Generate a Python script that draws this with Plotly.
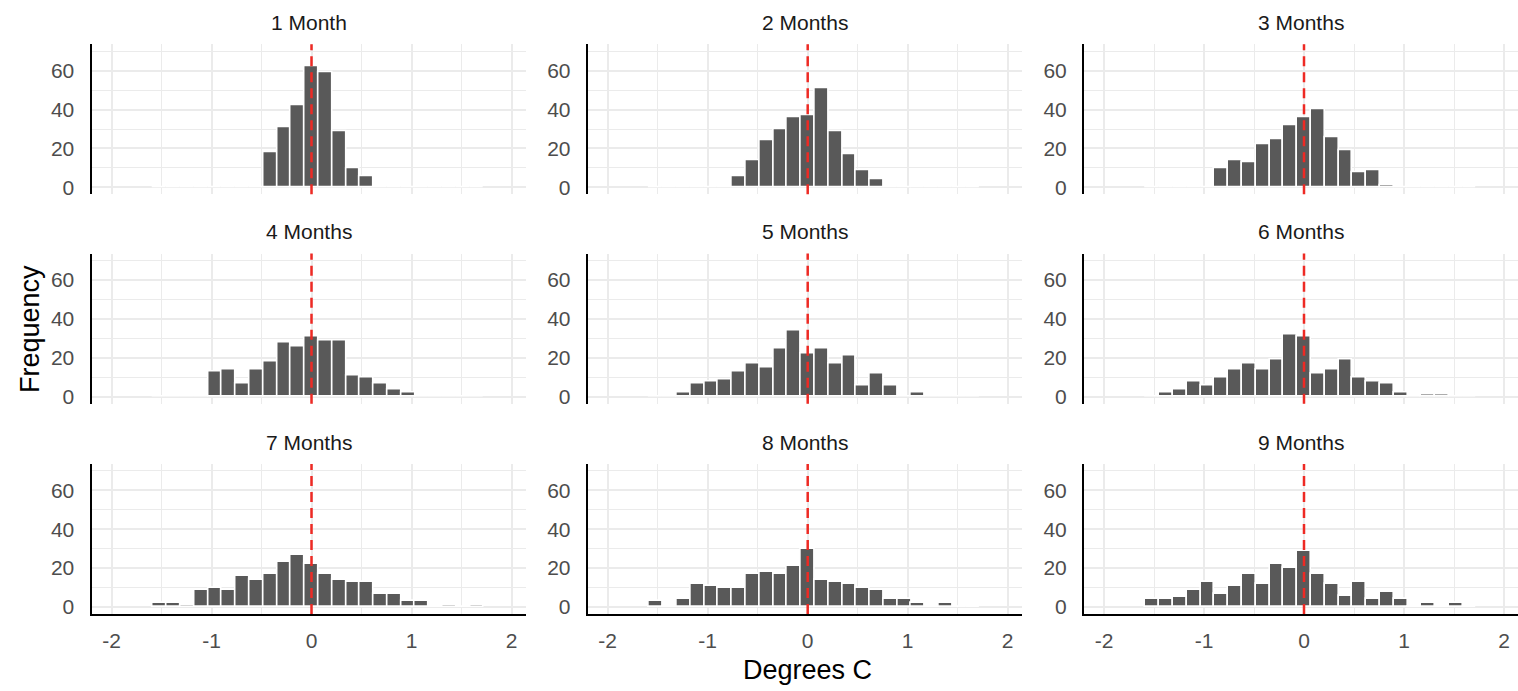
import plotly.graph_objects as go

W, H = 1518, 691

# ---- data ----
bin_centers = [-1.517, -1.379, -1.241, -1.103, -0.966, -0.828, -0.690, -0.552,
               -0.414, -0.276, -0.138, 0.0, 0.138, 0.276, 0.414, 0.552,
               0.690, 0.828, 0.966, 1.103, 1.241, 1.379, 1.517, 1.655]

panel_titles = ["1 Month", "2 Months", "3 Months", "4 Months", "5 Months",
                "6 Months", "7 Months", "8 Months", "9 Months"]

m1 = [0, 0, 0, 0, 0, 0, 0, 0, 18, 31, 42, 62, 59, 29, 10, 6, 0, 0, 0, 0, 0, 0, 0, 0]
m2 = [0, 0, 0, 0, 0, 0, 6, 14, 24, 30, 36, 37, 51, 29, 17, 9, 4, 0, 0, 0, 0, 0, 0, 0]
m3 = [0, 0, 0, 0, 0, 10, 14, 13, 22, 25, 32, 36, 40, 26, 19, 8, 9, 1, 0, 0, 0, 0, 0, 0]
m4 = [0, 0, 0, 0, 13, 14, 7, 14, 18, 28, 26, 31, 29, 29, 11, 10, 7, 4, 2, 0, 0, 0, 0, 0]
m5 = [0, 0, 2, 7, 8, 9, 13, 17, 15, 25, 34, 22, 25, 17, 21, 6, 12, 6, 0, 2, 0, 0, 0, 0]
m6 = [0, 2, 4, 8, 6, 10, 14, 17, 14, 19, 32, 31, 12, 14, 19, 10, 8, 7, 2, 0, 1, 1, 0, 0]
m7 = [2, 2, 1, 9, 10, 9, 16, 14, 17, 23, 27, 22, 17, 14, 13, 13, 7, 7, 3, 3, 0, 1, 0, 1]
m8 = [3, 0, 4, 12, 11, 10, 10, 17, 18, 17, 21, 30, 14, 13, 12, 10, 9, 4, 4, 2, 0, 2, 0, 0]
m9 = [4, 4, 5, 9, 13, 7, 11, 17, 12, 22, 20, 29, 17, 12, 6, 13, 4, 8, 4, 0, 2, 0, 2, 0]
panel_counts = [m1, m2, m3, m4, m5, m6, m7, m8, m9]

x_ticks = [-2, -1, 0, 1, 2]
x_tick_text = ["-2", "-1", "0", "1", "2"]
y_ticks = [0, 20, 40, 60]
ref_value = 0

# ---- layout geometry (pixels) ----
col_px = [(91.5, 525.5), (587.7, 1021.7), (1084.0, 1518.0)]
row_px = [(44.5, 195.4), (255.0, 406.0), (466.6, 617.5)]
X_RANGE = [-2.2, 2.14]
Y_RANGE = [-3.5, 73.5]

bin_width = bin_centers[1] - bin_centers[0]
FONT = "Liberation Sans, Arial, Helvetica, sans-serif"

fig = go.Figure()
layout = {}
shapes = []
annotations = []

for p in range(9):
    r, c = divmod(p, 3)
    suffix = "" if p == 0 else str(p + 1)
    xa, ya = "x" + suffix, "y" + suffix
    x0, x1 = col_px[c]
    yt, yb = row_px[r]

    fig.add_trace(go.Bar(
        x=bin_centers, y=panel_counts[p], width=bin_width,
        marker=dict(color="#595959", line=dict(color="white", width=1.6)),
        xaxis=xa, yaxis=ya, showlegend=False, hoverinfo="skip"))

    bottom = (r == 2)
    layout["xaxis" + suffix] = dict(
        domain=[x0 / W, x1 / W], range=X_RANGE, anchor=ya,
        tickvals=x_ticks, ticktext=x_tick_text, showticklabels=bottom,
        showgrid=True, gridcolor="#EBEBEB", gridwidth=2,
        minor=dict(dtick=0.5, showgrid=True, gridcolor="#EBEBEB", gridwidth=1.4),
        zeroline=False, showline=bottom, linecolor="black", linewidth=2,
        ticks="outside" if bottom else "", ticklen=7, tickcolor="rgba(0,0,0,0)",
        tickfont=dict(family=FONT, size=21, color="#4D4D4D"), fixedrange=True)
    layout["yaxis" + suffix] = dict(
        domain=[1 - yb / H, 1 - yt / H], range=Y_RANGE, anchor=xa,
        tickvals=y_ticks, showgrid=True, gridcolor="#EBEBEB", gridwidth=2,
        minor=dict(dtick=10, showgrid=True, gridcolor="#EBEBEB", gridwidth=1.4),
        zeroline=False, showline=True, linecolor="black", linewidth=2,
        ticks="outside", ticklen=11, tickcolor="rgba(0,0,0,0)",
        tickfont=dict(family=FONT, size=21, color="#4D4D4D"), fixedrange=True)

    shapes.append(dict(type="line", xref=xa, yref=ya + " domain",
                       x0=ref_value, x1=ref_value, y0=0, y1=1, layer="above",
                       line=dict(color="#EE2A24", width=2.5, dash="10px,6px")))

    annotations.append(dict(text=panel_titles[p], xref="paper", yref="paper",
                            x=(x0 + x1) / 2 / W, y=1 - (yt - 22) / H,
                            xanchor="center", yanchor="middle", showarrow=False,
                            font=dict(family=FONT, size=21, color="#1A1A1A")))

annotations.append(dict(text="Frequency", xref="paper", yref="paper",
                        x=30 / W, y=1 - 331 / H, textangle=-90,
                        xanchor="center", yanchor="middle", showarrow=False,
                        font=dict(family=FONT, size=27, color="black")))
annotations.append(dict(text="Degrees C", xref="paper", yref="paper",
                        x=808 / W, y=1 - 674 / H,
                        xanchor="center", yanchor="middle", showarrow=False,
                        font=dict(family=FONT, size=27, color="black")))

fig.update_layout(**layout)
fig.update_layout(width=W, height=H, margin=dict(l=0, r=0, t=0, b=0),
                  plot_bgcolor="white", paper_bgcolor="white",
                  bargap=0, shapes=shapes, annotations=annotations,
                  font=dict(family=FONT))

fig.write_html("out.html", config={"displayModeBar": False},
               post_script="document.body.style.margin='0';")
